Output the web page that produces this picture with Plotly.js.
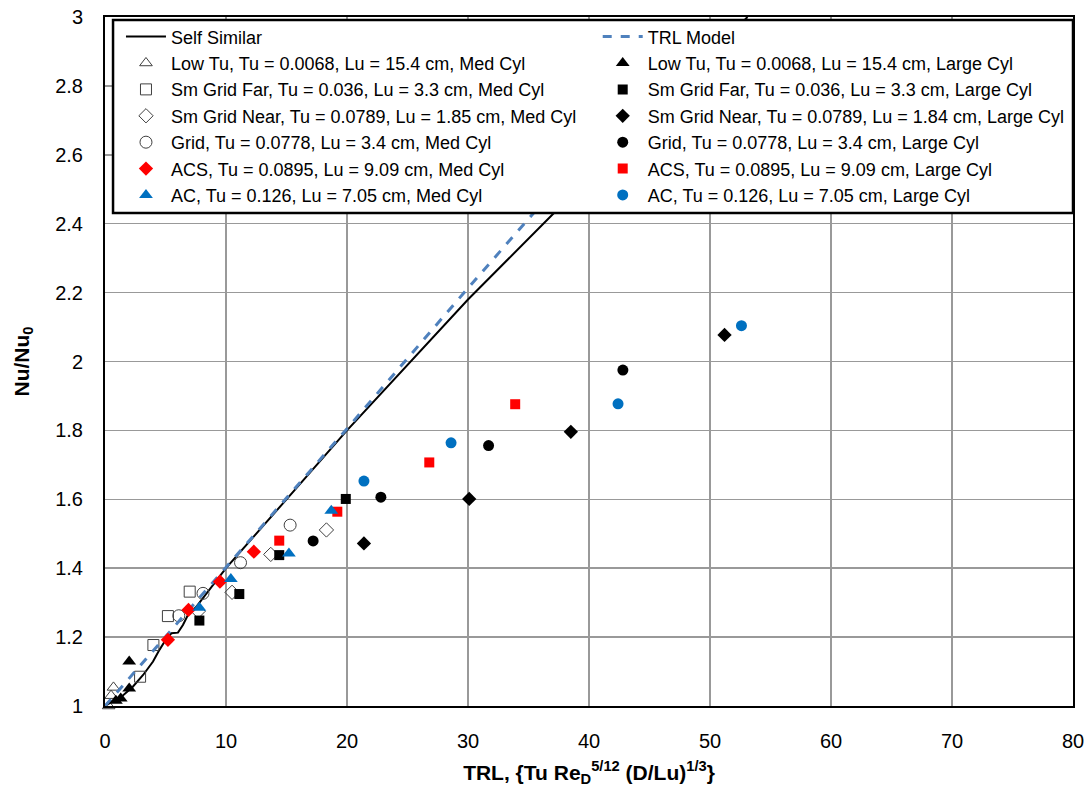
<!DOCTYPE html>
<html><head><meta charset="utf-8">
<script src="https://cdn.plot.ly/plotly-3.0.1.min.js"></script>
<style>body{margin:0;background:#fff}#chart{width:1091px;height:794px}</style>
</head><body><div id="chart"></div>
<script>
// Model curves
const selfSimX = [0, 0.55, 1.2, 2.3, 3.15, 3.97, 4.5, 4.93, 5.48, 6.03, 6.44, 6.85, 7.54, 10, 15, 20, 30, 36.8, 53.1];
const selfSimY = [1.0, 1.012, 1.022, 1.056, 1.09, 1.129, 1.163, 1.187, 1.211, 1.213, 1.235, 1.264, 1.288, 1.40, 1.60, 1.80, 2.18, 2.42, 3.0];
const trlX = [0, 10, 20, 30, 40, 50];
const trlY = [1.0, 1.403, 1.805, 2.213, 2.615, 3.01];

// Medium cylinder series
const lowTuMedX = [0.3, 0.5, 0.7];
const lowTuMedY = [1.0, 1.03, 1.054];
const smFarMedX = [2.9, 4.0, 5.2, 7.0];
const smFarMedY = [1.085, 1.177, 1.261, 1.332];
const smNearMedX = [7.7, 10.5, 13.7, 18.3];
const smNearMedY = [1.275, 1.33, 1.44, 1.511];
const gridMedX = [6.1, 8.1, 11.2, 15.3];
const gridMedY = [1.262, 1.327, 1.416, 1.525];
const acsMedX = [5.2, 6.9, 9.5, 12.3];
const acsMedY = [1.192, 1.279, 1.361, 1.448];
const acMedX = [7.8, 10.4, 15.2, 18.7];
const acMedY = [1.285, 1.369, 1.443, 1.567];

// Large cylinder series
const lowTuLgX = [0.9, 1.3, 2.0, 2.0];
const lowTuLgY = [1.015, 1.022, 1.051, 1.129];
const smFarLgX = [7.8, 11.1, 14.4, 19.9];
const smFarLgY = [1.248, 1.325, 1.438, 1.601];
const smNearLgX = [21.4, 30.1, 38.5, 51.2];
const smNearLgY = [1.472, 1.601, 1.796, 2.077];
const gridLgX = [17.2, 22.8, 31.7, 42.8];
const gridLgY = [1.479, 1.606, 1.756, 1.975];
const acsLgX = [14.4, 19.2, 26.8, 33.9];
const acsLgY = [1.48, 1.564, 1.707, 1.876];
const acLgX = [21.4, 28.6, 42.4, 52.6];
const acLgY = [1.653, 1.764, 1.877, 2.104];

const xTicks = [0, 10, 20, 30, 40, 50, 60, 70, 80];
const yTicks = [1, 1.2, 1.4, 1.6, 1.8, 2, 2.2, 2.4, 2.6, 2.8, 3];

const FONT = '"Liberation Sans", Arial, sans-serif';
const RED = '#ff0000', BLUE = '#0070c0', BLK = '#000000', GRY = '#404040';

function pts(name, x, y, symbol, color, size, open, leg) {
  return {
    type: 'scatter', mode: 'markers', name: name, x: x, y: y, legend: leg,
    marker: open ? {symbol: symbol, size: size, color: GRY, line: {color: GRY, width: 1}}
                 : {symbol: symbol, size: size, color: color, line: {width: 0}},
    cliponaxis: false
  };
}

const traces = [
  {type: 'scatter', mode: 'lines', name: 'Self Similar', x: selfSimX, y: selfSimY, legend: 'legend', line: {color: BLK, width: 2}},
  pts('Low Tu, Tu = 0.0068, Lu = 15.4 cm, Med Cyl', lowTuMedX, lowTuMedY, 'triangle-up-open', GRY, 11, true, 'legend'),
  pts('Sm Grid Far, Tu = 0.036, Lu = 3.3 cm, Med Cyl', smFarMedX, smFarMedY, 'square-open', GRY, 11, true, 'legend'),
  pts('Sm Grid Near, Tu = 0.0789, Lu = 1.85 cm, Med Cyl', smNearMedX, smNearMedY, 'diamond-open', GRY, 11, true, 'legend'),
  pts('Grid, Tu = 0.0778, Lu = 3.4 cm, Med Cyl', gridMedX, gridMedY, 'circle-open', GRY, 12, true, 'legend'),
  {type: 'scatter', mode: 'lines', name: 'TRL Model', x: trlX, y: trlY, legend: 'legend2', line: {color: '#4f81bd', width: 3, dash: 'dash'}},
  pts('Low Tu, Tu = 0.0068, Lu = 15.4 cm, Large Cyl', lowTuLgX, lowTuLgY, 'triangle-up', BLK, 12, false, 'legend2'),
  pts('Sm Grid Far, Tu = 0.036, Lu = 3.3 cm, Large Cyl', smFarLgX, smFarLgY, 'square', BLK, 10, false, 'legend2'),
  pts('Sm Grid Near, Tu = 0.0789, Lu = 1.84 cm, Large Cyl', smNearLgX, smNearLgY, 'diamond', BLK, 11, false, 'legend2'),
  pts('Grid, Tu = 0.0778, Lu = 3.4 cm, Large Cyl', gridLgX, gridLgY, 'circle', BLK, 11, false, 'legend2'),
  pts('ACS, Tu = 0.0895, Lu = 9.09 cm, Large Cyl', acsLgX, acsLgY, 'square', RED, 10, false, 'legend2'),
  pts('AC, Tu = 0.126, Lu = 7.05 cm, Large Cyl', acLgX, acLgY, 'circle', BLUE, 11, false, 'legend2'),
  pts('ACS, Tu = 0.0895, Lu = 9.09 cm, Med Cyl', acsMedX, acsMedY, 'diamond', RED, 11, false, 'legend'),
  pts('AC, Tu = 0.126, Lu = 7.05 cm, Med Cyl', acMedX, acMedY, 'triangle-up', BLUE, 12, false, 'legend')
];

const axisCommon = {
  showline: true, linecolor: '#000', linewidth: 2, mirror: true,
  showgrid: true, gridcolor: '#999999', gridwidth: 1.5,
  zeroline: false, ticks: '', tickfont: {family: FONT, size: 20, color: '#000'}
};

const legCommon = {
  orientation: 'v', xanchor: 'left', yanchor: 'top', traceorder: 'normal',
  bgcolor: 'rgba(0,0,0,0)', borderwidth: 0,
  font: {family: FONT, size: 18, color: '#000'},
  itemwidth: 40, tracegroupgap: 0
};

const layout = {
  width: 1091, height: 794,
  margin: {l: 105, r: 18, t: 17, b: 88, autoexpand: false},
  paper_bgcolor: '#fff', plot_bgcolor: '#fff',
  font: {family: FONT, color: '#000'},
  showlegend: true,
  legend: Object.assign({}, legCommon, {x: 0.0165, y: 0.998}),
  legend2: Object.assign({}, legCommon, {x: 0.509, y: 0.998}),
  shapes: [{
    type: 'rect', xref: 'paper', yref: 'paper', layer: 'above',
    x0: 0.0083, x1: 1.0, y0: 0.7155, y1: 0.9956,
    fillcolor: '#fff', line: {color: '#000', width: 2.5}
  }],
  xaxis: Object.assign({}, axisCommon, {
    range: [0, 80], tickvals: xTicks, ticktext: xTicks.map(String), ticklabelstandoff: 16,
    title: {text: '<b>TRL, {Tu Re<sub>D</sub><sup>5/12</sup> (D/Lu)<sup>1/3</sup>}</b>', font: {family: FONT, size: 21}, standoff: 14}
  }),
  yaxis: Object.assign({}, axisCommon, {
    range: [1, 3], tickvals: yTicks, ticktext: yTicks.map(v => String(v)), ticklabelstandoff: 16,
    title: {text: '<b>Nu/Nu<sub>0</sub></b>', font: {family: FONT, size: 21}, standoff: 20}
  })
};

Plotly.newPlot('chart', traces, layout, {displayModeBar: false, staticPlot: true});
</script>
</body></html>
